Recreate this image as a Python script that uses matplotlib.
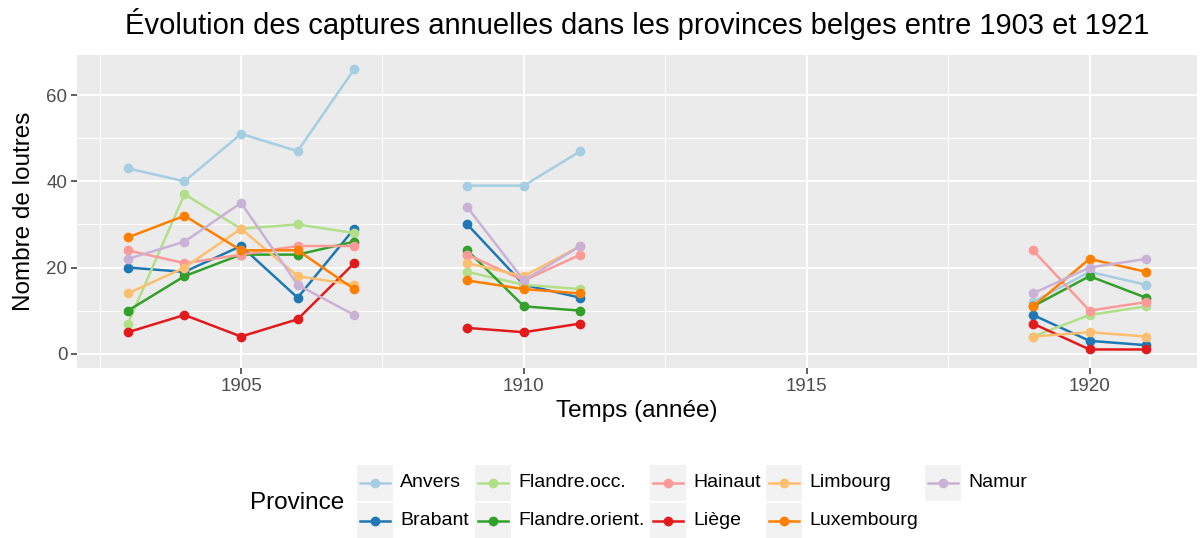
import numpy as np
import matplotlib
matplotlib.use("Agg")
import matplotlib.pyplot as plt
from matplotlib.lines import Line2D
from matplotlib.patches import Rectangle

plt.rcParams["font.family"] = ["Liberation Sans", "DejaVu Sans"]

years = list(range(1903, 1922))
nan = np.nan

provinces = ["Anvers", "Brabant", "Flandre.occ.", "Flandre.orient.", "Hainaut",
             "Liège", "Limbourg", "Luxembourg", "Namur"]
colors = ["#A6CEE3", "#1F78B4", "#B2DF8A", "#33A02C", "#FB9A99",
          "#E31A1C", "#FDBF6F", "#FF7F00", "#CAB2D6"]

# values for 1903..1921 (NaN = missing)
gap8 = [nan] * 7  # 1912..1918
anvers      = [43, 40, 51, 47, 66, nan, 39, 39, 47] + gap8 + [12, 19, 16]
brabant     = [20, 19, 25, 13, 29, nan, 30, 16, 13] + gap8 + [9, 3, 2]
flandre_occ = [7, 37, 29, 30, 28, nan, 19, 16, 15] + gap8 + [4, 9, 11]
flandre_or  = [10, 18, 23, 23, 26, nan, 24, 11, 10] + gap8 + [11, 18, 13]
hainaut     = [24, 21, 23, 25, 25, nan, 23, 17, 23] + gap8 + [24, 10, 12]
liege       = [5, 9, 4, 8, 21, nan, 6, 5, 7] + gap8 + [7, 1, 1]
limbourg    = [14, 20, 29, 18, 16, nan, 21, 18, 25] + gap8 + [4, 5, 4]
luxembourg  = [27, 32, 24, 24, 15, nan, 17, 15, 14] + gap8 + [11, 22, 19]
namur       = [22, 26, 35, 16, 9, nan, 34, 17, 25] + gap8 + [14, 20, 22]
series = [anvers, brabant, flandre_occ, flandre_or, hainaut,
          liege, limbourg, luxembourg, namur]

W, H = 1201, 538
fig = plt.figure(figsize=(W / 100, H / 100), dpi=100)
ax = fig.add_axes([77 / W, 1 - 368 / H, (1197 - 77) / W, (368 - 55) / H])
ax.set_facecolor("#EBEBEB")
for s in ax.spines.values():
    s.set_visible(False)

for name, vals, c in zip(provinces, series, colors):
    ax.plot(years, vals, color=c, lw=1.8, marker="o", ms=6, zorder=3,
            label=name)

ax.set_xlim(1902.1, 1921.9)
ax.set_ylim(-3.3, 69.3)
ax.set_xticks([1905, 1910, 1915, 1920])
ax.set_yticks([0, 20, 40, 60])
ax.set_xticks([1902.5, 1907.5, 1912.5, 1917.5], minor=True)
ax.set_yticks([10, 30, 50], minor=True)
ax.grid(which="major", color="white", lw=1.4, zorder=0)
ax.grid(which="minor", color="white", lw=0.7, zorder=0)
ax.set_axisbelow(True)
ax.tick_params(which="major", length=4, color="#333333", labelsize=13.5,
               labelcolor="#4D4D4D", width=1.1, pad=3)
ax.tick_params(which="minor", length=0)
ax.set_xlabel("Temps (année)", fontsize=17.5, labelpad=4)
ax.set_ylabel("Nombre de loutres", fontsize=17.5, labelpad=8)
ax.set_title("Évolution des captures annuelles dans les provinces belges entre 1903 et 1921",
             fontsize=21, pad=15)

# legend drawn in figure pixel coordinates
def fx(px):
    return px / W

def fy(py):
    return 1 - py / H

fig.text(fx(250), fy(503), "Province", fontsize=17.5, va="center", ha="left")
col_x = [357, 475, 650, 766, 925]
row_y = [482.5, 520.5]
for i, (name, c) in enumerate(zip(provinces, colors)):
    col, row = divmod(i, 2)
    kx, ky = col_x[col], row_y[row]
    fig.add_artist(Rectangle((fx(kx), fy(ky + 18)), 36 / W, 36 / H,
                             transform=fig.transFigure, facecolor="#F2F2F2",
                             edgecolor="none"))
    fig.add_artist(Line2D([fx(kx + 3), fx(kx + 33)], [fy(ky), fy(ky)],
                          transform=fig.transFigure, color=c, lw=1.8))
    fig.add_artist(Line2D([fx(kx + 18)], [fy(ky)], transform=fig.transFigure,
                          color=c, marker="o", ms=6, lw=0))
    fig.text(fx(kx + 43), fy(ky), name, fontsize=14, va="center", ha="left")

fig.savefig("out.png", dpi=100, facecolor="white")
